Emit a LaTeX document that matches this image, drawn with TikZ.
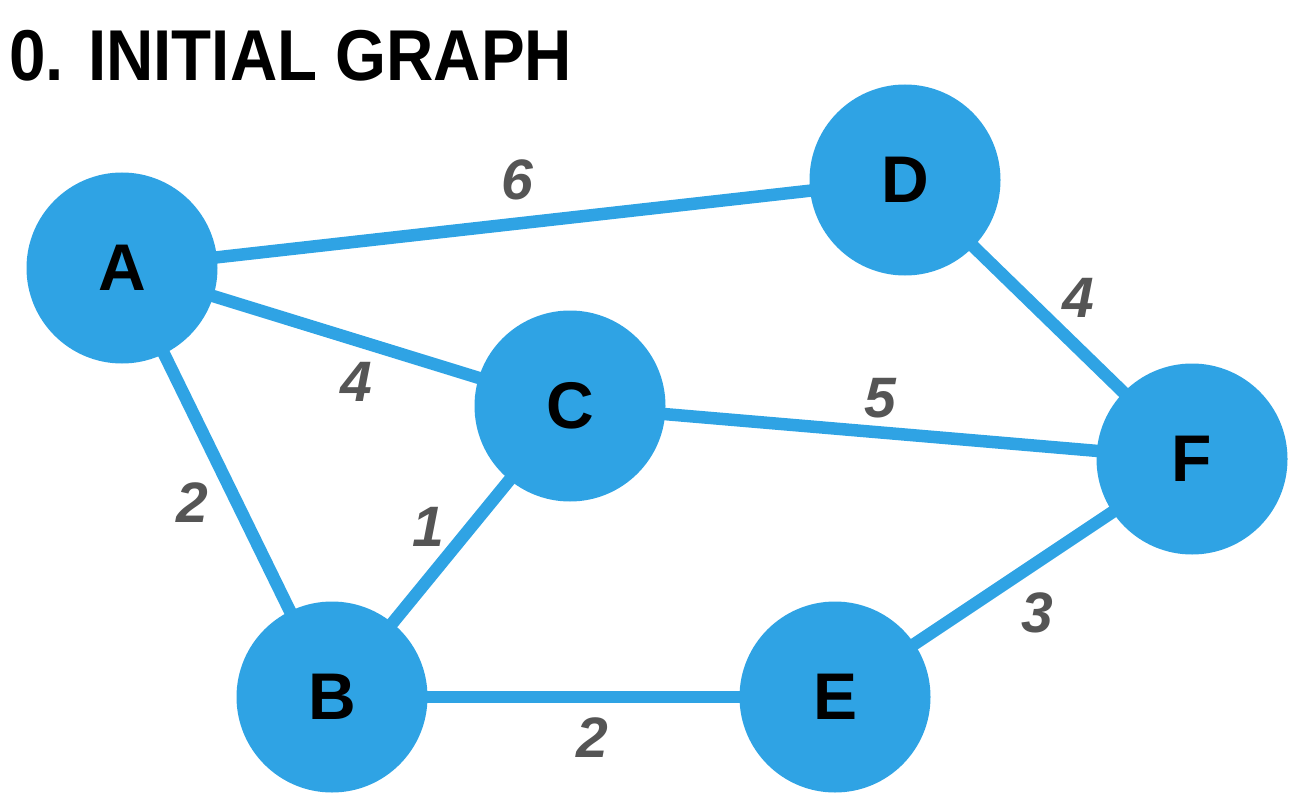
\documentclass[tikz,border=0pt]{standalone}
\usepackage{fontspec}
\setmainfont{Liberation Sans}
\definecolor{nodeblue}{HTML}{2FA3E4}
\definecolor{labgray}{HTML}{555555}
\begin{document}
\begin{tikzpicture}[x=1pt,y=-1pt,
  vertex/.style={circle,fill=nodeblue,minimum size=191pt,inner sep=0pt,
    font=\fontsize{66}{66}\selectfont\bfseries,text=black},
  conn/.style={draw=nodeblue,line width=12.5pt},
  wlabel/.style={font=\fontsize{57}{57}\selectfont\bfseries\itshape,text=labgray,inner sep=0pt}]
\useasboundingbox (0,0) rectangle (1305,805);
\node[anchor=west,inner sep=0pt,font=\fontsize{72}{72}\selectfont\bfseries,xscale=0.91] (title) at (9,56) {0. INITIAL GRAPH};
\coordinate (pA) at (122,268);
\coordinate (pD) at (905,180);
\coordinate (pC) at (570,406);
\coordinate (pF) at (1192,459);
\coordinate (pB) at (332,697);
\coordinate (pE) at (835,697);
\draw[conn] (pA) -- (pD);
\draw[conn] (pA) -- (pC);
\draw[conn] (pA) -- (pB);
\draw[conn] (pC) -- (pB);
\draw[conn] (pC) -- (pF);
\draw[conn] (pD) -- (pF);
\draw[conn] (pB) -- (pE);
\draw[conn] (pE) -- (pF);
\node[vertex] (A) at (pA) {A};
\node[vertex] (D) at (pD) {D};
\node[vertex] (C) at (pC) {C};
\node[vertex] (F) at (pF) {F};
\node[vertex] (B) at (pB) {B};
\node[vertex] (E) at (pE) {E};
\node[wlabel] (lAD) at (517,180) {6};
\node[wlabel] (lAC) at (356,382) {4};
\node[wlabel] (lAB) at (192,503) {2};
\node[wlabel] (lBC) at (428,527) {1};
\node[wlabel] (lCF) at (880,398) {5};
\node[wlabel] (lDF) at (1078,298) {4};
\node[wlabel] (lEF) at (1037,613) {3};
\node[wlabel] (lBE) at (592,738) {2};
\end{tikzpicture}
\end{document}
